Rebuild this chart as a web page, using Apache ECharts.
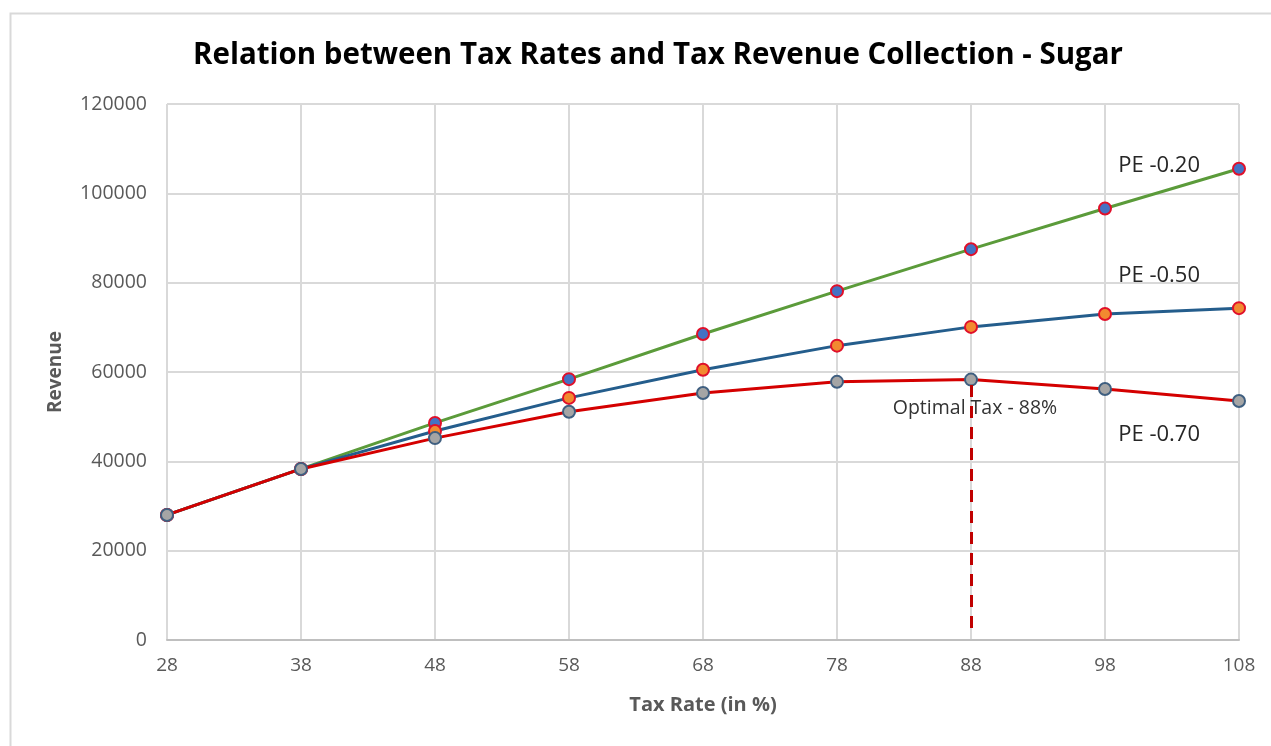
<!DOCTYPE html>
<html>
<head>
<meta charset="utf-8">
<script src="https://cdn.jsdelivr.net/npm/echarts@6/dist/echarts.min.js"></script>
<style>
  html, body { margin: 0; padding: 0; background: #fff; }
  #chart { width: 1271px; height: 746px; }
</style>
</head>
<body>
<div id="chart"></div>
<script>
var taxRates = ['28', '38', '48', '58', '68', '78', '88', '98', '108'];
var pe020 = [28000, 38300, 48600, 58400, 68500, 78100, 87500, 96600, 105500];
var pe050 = [28000, 38300, 46800, 54200, 60500, 65900, 70100, 73000, 74300];
var pe070 = [28000, 38300, 45200, 51100, 55300, 57800, 58300, 56200, 53500];
var optimalIndex = 6;

var chart = echarts.init(document.getElementById('chart'));

// last point carries the series name, like the text boxes in the picture
function withEndLabel(values, text, offset) {
    return values.map(function (v, i) {
        if (i != values.length - 1) return v;
        return {
            value: v,
            label: {
                show: true, formatter: text, position: 'left', distance: 32,
                offset: offset, fontSize: 22, color: '#262626',
                fontFamily: 'Open Sans'
            }
        };
    });
}

var redData = withEndLabel(pe070, 'PE -0.70', [0, 34]);
redData[optimalIndex] = {
    value: pe070[optimalIndex],
    label: {
        show: true, formatter: 'Optimal Tax - 88%', position: 'bottom', distance: 12,
        fontSize: 19.5, color: '#333', fontFamily: 'Open Sans', offset: [4, 0]
    }
};

var option = {
    animation: false,
    backgroundColor: '#fff',
    title: {
        text: 'Relation between Tax Rates and Tax Revenue Collection - Sugar',
        left: 188, top: 36,
        textStyle: { fontFamily: 'Open Sans', fontWeight: 'bold', fontSize: 29.5, color: '#000' }
    },
    graphic: [{
        type: 'rect', left: 8, top: 11,
        shape: { width: 1300, height: 800 },
        style: { fill: 'none', stroke: '#d9d9d9', lineWidth: 2 }
    }],
    grid: { left: 167, right: 32, top: 104, bottom: 106 },
    xAxis: {
        type: 'category', data: taxRates, boundaryGap: false,
        name: 'Tax Rate (in %)', nameLocation: 'middle', nameGap: 55,
        nameTextStyle: { fontFamily: 'Open Sans', fontWeight: 'bold', fontSize: 20, color: '#595959' },
        axisLine: { lineStyle: { color: '#bfbfbf', width: 2 } },
        axisTick: { show: false },
        axisLabel: { fontFamily: 'Open Sans', fontSize: 19, color: '#595959', margin: 16 },
        splitLine: { show: true, lineStyle: { color: '#d9d9d9', width: 2 } }
    },
    yAxis: {
        type: 'value', min: 0, max: 120000, interval: 20000,
        name: 'Revenue', nameLocation: 'middle', nameGap: 102,
        nameTextStyle: { fontFamily: 'Open Sans', fontWeight: 'bold', fontSize: 19, color: '#595959' },
        axisLine: { show: false },
        axisTick: { show: false },
        axisLabel: {
            fontFamily: 'Open Sans', fontSize: 19.5, color: '#595959', margin: 20,
            formatter: function (v) { return String(v); }
        },
        splitLine: { lineStyle: { color: '#d9d9d9', width: 2 } }
    },
    series: [
        {
            name: 'PE -0.20', type: 'line', data: withEndLabel(pe020, 'PE -0.20', [0, -3]),
            symbol: 'circle', symbolSize: 12,
            lineStyle: { color: '#5b9b3a', width: 3 },
            itemStyle: { color: '#4472c4', borderColor: '#e0102a', borderWidth: 2 }
        },
        {
            name: 'PE -0.50', type: 'line', data: withEndLabel(pe050, 'PE -0.50', [0, -32]),
            symbol: 'circle', symbolSize: 12,
            lineStyle: { color: '#245d8c', width: 3 },
            itemStyle: { color: '#f28a30', borderColor: '#e0102a', borderWidth: 2 }
        },
        {
            name: 'PE -0.70', type: 'line', data: redData,
            symbol: 'circle', symbolSize: 12,
            lineStyle: { color: '#d40000', width: 3 },
            itemStyle: { color: '#a5a5a5', borderColor: '#3f5f80', borderWidth: 2 },
            markLine: {
                silent: true, symbol: 'none',
                label: { show: false },
                lineStyle: { color: '#c00000', width: 3, type: [12, 9] },
                data: [[
                    { coord: [taxRates[optimalIndex], pe070[optimalIndex] - 1200] },
                    { coord: [taxRates[optimalIndex], 1800] }
                ]]
            }
        }
    ]
};

chart.setOption(option);
</script>
</body>
</html>
